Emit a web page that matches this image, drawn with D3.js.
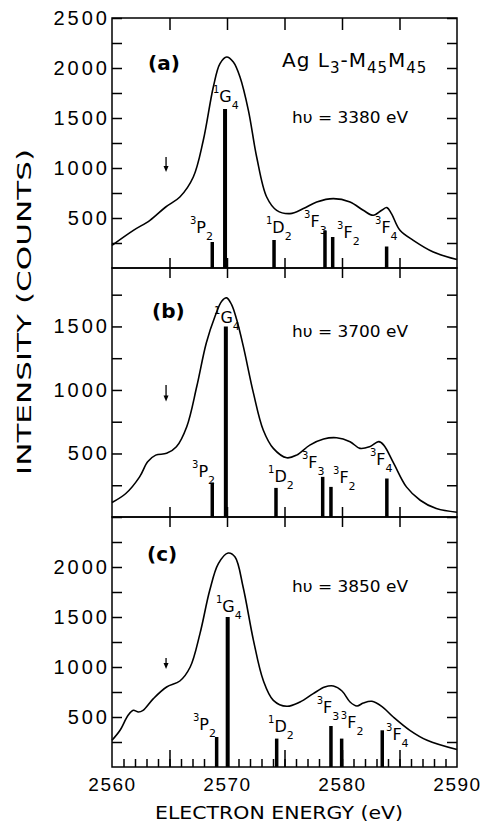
<!DOCTYPE html>
<html>
<head>
<meta charset="utf-8">
<script src="https://cdn.jsdelivr.net/npm/d3@7"></script>
<style>
  body { margin: 0; background: #fff; }
  svg { display: block; font-family: "DejaVu Sans", sans-serif; }
  .axis path { display: none; }
  .axis line { stroke: #000; stroke-width: 1.5; }
  .ylab text { font-size: 20px; letter-spacing: 3px; fill: #000; }
  .xlab text { font-size: 19px; letter-spacing: 1.5px; fill: #000; }
</style>
</head>
<body>
<svg id="chart" width="487" height="823"></svg>
<script>
// spectra: electron energy (eV) / intensity (counts)
var energyA = [2560, 2561.86, 2563.3, 2564.67, 2565.9, 2567.07, 2567.94, 2568.81, 2569.39, 2569.97, 2570.55, 2571.13, 2571.86, 2572.58, 2573.45, 2574.32, 2575.48, 2576.64, 2577.8, 2579.25, 2580.7, 2581.85, 2582.72, 2583.45, 2583.9, 2584.3, 2585.04, 2586.2, 2587.94, 2590];
var countsA = [227, 377, 477, 610, 710, 910, 1277, 1810, 2044, 2110, 2060, 1910, 1577, 1110, 710, 577, 544, 594, 660, 694, 660, 577, 527, 577, 604, 544, 377, 277, 160, 84];

var energyB = [2560, 2561.2, 2562.4, 2563.1, 2563.8, 2564.75, 2565.6, 2566.5, 2567.37, 2568.2, 2568.96, 2569.54, 2569.97, 2570.4, 2570.84, 2571.42, 2572.3, 2573.15, 2574.03, 2575.2, 2576.05, 2577.2, 2578.4, 2579.53, 2580.7, 2581.56, 2582.4, 2583.2, 2583.63, 2584.5, 2585.6, 2586.8, 2588.2, 2590];
var countsB = [114, 185, 316, 435, 487, 501, 553, 711, 1027, 1370, 1580, 1699, 1725, 1672, 1554, 1343, 975, 685, 540, 466, 487, 566, 614, 624, 593, 540, 553, 593, 566, 422, 237, 132, 66, 38];

var energyC = [2560, 2560.7, 2561.4, 2561.85, 2562.3, 2562.7, 2563.6, 2564.75, 2565.9, 2566.8, 2567.65, 2568.5, 2569.25, 2570.1, 2570.7, 2571.4, 2572.3, 2573.15, 2574.03, 2575.2, 2576.35, 2577.5, 2578.5, 2579.25, 2580, 2580.7, 2581.3, 2581.85, 2582.6, 2583.45, 2584.46, 2585.9, 2587.4, 2590];
var countsC = [267, 367, 517, 567, 550, 567, 684, 800, 860, 1000, 1334, 1767, 2034, 2140, 2100, 1800, 1267, 867, 667, 607, 650, 734, 800, 810, 760, 650, 610, 640, 657, 607, 500, 367, 267, 174];

// multiplet terms: superscript, letter, subscript
var termSup = ['3', '1', '1', '3', '3', '3'];
var termLetter = ['P', 'G', 'D', 'F', 'F', 'F'];
var termSub = ['2', '4', '2', '3', '2', '4'];

// stick positions (eV) and heights (counts)
var stickEA = [2568.72, 2569.83, 2574.09, 2578.52, 2579.19, 2583.88];
var stickHA = [260, 1590, 280, 375, 310, 215];
var stickEB = [2568.72, 2569.9, 2574.26, 2578.32, 2579.04, 2583.9];
var stickHB = [272, 1500, 229, 316, 237, 303];
var stickEC = [2569.1, 2570.06, 2574.32, 2579.04, 2579.97, 2583.5];
var stickHC = [300, 1500, 284, 410, 284, 367];

// where each term label sits (eV, counts)
var labelEA = [2566.78, 2568.78, 2573.39, 2576.7, 2579.57, 2582.87];
var labelCA = [350, 1660, 350, 410, 300, 350];
var labelEB = [2566.96, 2568.87, 2573.57, 2576.52, 2579.22, 2582.43];
var labelCB = [314, 1530, 274, 385, 266, 408];
var labelEC = [2567.04, 2569.04, 2573.57, 2577.8, 2579.9, 2583.83];
var labelCC = [367, 1547, 347, 537, 387, 267];

// arrow at 2564.7 eV, from / to counts
var arrowE = 2564.7;
var arrowA = [1110, 960];
var arrowB = [1040, 910];
var arrowC = [1090, 980];

var photonA = 'hυ = 3380 eV', photonB = 'hυ = 3700 eV', photonC = 'hυ = 3850 eV';
var xLabels = [2560, 2570, 2580, 2590];

var svg = d3.select('#chart');
var left = 112, right = 457;
var x = d3.scaleLinear().domain([2560, 2590]).range([left, right]);

var panels = [
    {tag: '(a)', tagX: 148, tagY: 70, hv: photonA, hvY: 123, top: 18, bottom: 268, ymax: 2500,
        yLabels: [500, 1000, 1500, 2000, 2500], energy: energyA, counts: countsA,
        stickE: stickEA, stickH: stickHA, labE: labelEA, labC: labelCA, arrow: arrowA},
    {tag: '(b)', tagX: 152, tagY: 318, hv: photonB, hvY: 337, top: 268, bottom: 517, ymax: 1960,
        yLabels: [500, 1000, 1500], energy: energyB, counts: countsB,
        stickE: stickEB, stickH: stickHB, labE: labelEB, labC: labelCB, arrow: arrowB},
    {tag: '(c)', tagX: 147, tagY: 561, hv: photonC, hvY: 592, top: 517, bottom: 767, ymax: 2500,
        yLabels: [500, 1000, 1500, 2000], energy: energyC, counts: countsC,
        stickE: stickEC, stickH: stickHC, labE: labelEC, labC: labelCC, arrow: arrowC}
];

panels.forEach(function (p, pi) {
    var y = d3.scaleLinear().domain([0, p.ymax]).range([p.bottom, p.top]);
    var g = svg.append('g');
    var yTicks = d3.range(250, p.ymax + 1, 250);

    g.append('rect')
        .attr('x', left).attr('y', p.top)
        .attr('width', right - left).attr('height', p.bottom - p.top)
        .attr('fill', 'none').attr('stroke', '#000').attr('stroke-width', 1.5);

    g.append('g').attr('class', 'axis ylab')
        .attr('transform', 'translate(' + left + ',0)')
        .call(d3.axisLeft(y).tickValues(yTicks).tickSizeInner(-10).tickSizeOuter(0).tickPadding(2)
            .tickFormat(function (d) { return p.yLabels.indexOf(d) >= 0 ? d : ''; }));

    g.append('g').attr('class', 'axis')
        .attr('transform', 'translate(' + right + ',0)')
        .call(d3.axisRight(y).tickValues(yTicks).tickSizeInner(-10).tickSizeOuter(0).tickFormat(''));

    var five = [2565, 2570, 2575, 2580, 2585];
    if (pi === 0) {
        g.append('g').attr('class', 'axis')
            .attr('transform', 'translate(0,' + p.top + ')')
            .call(d3.axisTop(x).tickValues(five).tickSizeInner(-12).tickSizeOuter(0).tickFormat(''));
    }
    if (pi < 2) {
        // shared border: ticks cross the line
        g.append('g').attr('class', 'axis')
            .attr('transform', 'translate(0,' + p.bottom + ')')
            .call(d3.axisTop(x).tickValues(five).tickSizeInner(10).tickSizeOuter(0).tickFormat(''));
        g.append('g').attr('class', 'axis')
            .attr('transform', 'translate(0,' + p.bottom + ')')
            .call(d3.axisBottom(x).tickValues(five).tickSizeInner(10).tickSizeOuter(0).tickFormat(''));
    } else {
        g.append('g').attr('class', 'axis')
            .attr('transform', 'translate(0,' + p.bottom + ')')
            .call(d3.axisBottom(x).tickValues(d3.range(2561, 2590)).tickSizeInner(-8).tickSizeOuter(0).tickFormat(''));
        g.append('g').attr('class', 'axis')
            .attr('transform', 'translate(0,' + p.bottom + ')')
            .call(d3.axisBottom(x).tickValues(five).tickSizeInner(-17).tickSizeOuter(0).tickFormat(''));
        g.append('g').attr('class', 'axis xlab')
            .attr('transform', 'translate(0,' + p.bottom + ')')
            .call(d3.axisBottom(x).tickValues(xLabels).tickSize(0).tickPadding(11).tickFormat(d3.format('d')));
    }

    // sticks
    g.selectAll('line.stick').data(p.stickE).enter().append('line')
        .attr('class', 'stick')
        .attr('x1', function (d) { return x(d); }).attr('x2', function (d) { return x(d); })
        .attr('y1', y(0)).attr('y2', function (d, i) { return y(p.stickH[i]); })
        .attr('stroke', '#000')
        .attr('stroke-width', function (d, i) { return i === 1 ? 4 : 3.5; });

    // spectrum
    var line = d3.line()
        .x(function (d) { return x(d[0]); })
        .y(function (d) { return y(d[1]); })
        .curve(d3.curveCatmullRom.alpha(0.5));
    g.append('path')
        .datum(d3.zip(p.energy, p.counts))
        .attr('d', line)
        .attr('fill', 'none').attr('stroke', '#000').attr('stroke-width', 1.6);

    // arrow
    var ax = x(arrowE), y0 = y(p.arrow[0]), y1 = y(p.arrow[1]);
    g.append('line').attr('x1', ax).attr('x2', ax).attr('y1', y0).attr('y2', y1 - 4)
        .attr('stroke', '#000').attr('stroke-width', 1.3);
    g.append('path')
        .attr('d', 'M' + (ax - 2.5) + ',' + (y1 - 6) + 'L' + (ax + 2.5) + ',' + (y1 - 6) + 'L' + ax + ',' + y1 + 'Z')
        .attr('fill', '#000');

    // term labels
    p.labE.forEach(function (e, i) {
        var t = g.append('text')
            .attr('x', x(e)).attr('y', y(p.labC[i]))
            .style('font-size', '16px');
        t.append('tspan').text(termSup[i]).style('font-size', '10px').attr('dy', -9);
        t.append('tspan').text(termLetter[i]).attr('dy', 9);
        t.append('tspan').text(termSub[i]).style('font-size', '11px').attr('dy', 7);
    });

    g.append('text').attr('x', p.tagX).attr('y', p.tagY)
        .style('font-size', '20px').style('font-weight', 'bold')
        .text(p.tag);

    g.append('text').attr('x', 292).attr('y', p.hvY)
        .attr('textLength', 116).attr('lengthAdjust', 'spacingAndGlyphs')
        .style('font-size', '16px')
        .text(p.hv);
});

// title in panel (a)
var ag = svg.append('text').attr('x', 282).attr('y', 67)
    .style('font-size', '20px').style('letter-spacing', '1px');
ag.append('tspan').text('Ag L');
ag.append('tspan').text('3').attr('dy', 6).style('font-size', '15px');
ag.append('tspan').text('-M').attr('dy', -6);
ag.append('tspan').text('45').attr('dy', 6).style('font-size', '15px');
ag.append('tspan').text('M').attr('dy', -6);
ag.append('tspan').text('45').attr('dy', 6).style('font-size', '15px');

svg.append('text')
    .attr('transform', 'translate(31,312) rotate(-90)')
    .attr('text-anchor', 'middle')
    .attr('textLength', 326).attr('lengthAdjust', 'spacingAndGlyphs')
    .style('font-size', '19px')
    .text('INTENSITY (COUNTS)');

svg.append('text')
    .attr('x', 279).attr('y', 819)
    .attr('text-anchor', 'middle')
    .attr('textLength', 248).attr('lengthAdjust', 'spacingAndGlyphs')
    .style('font-size', '18px')
    .text('ELECTRON ENERGY (eV)');
</script>
</body>
</html>
